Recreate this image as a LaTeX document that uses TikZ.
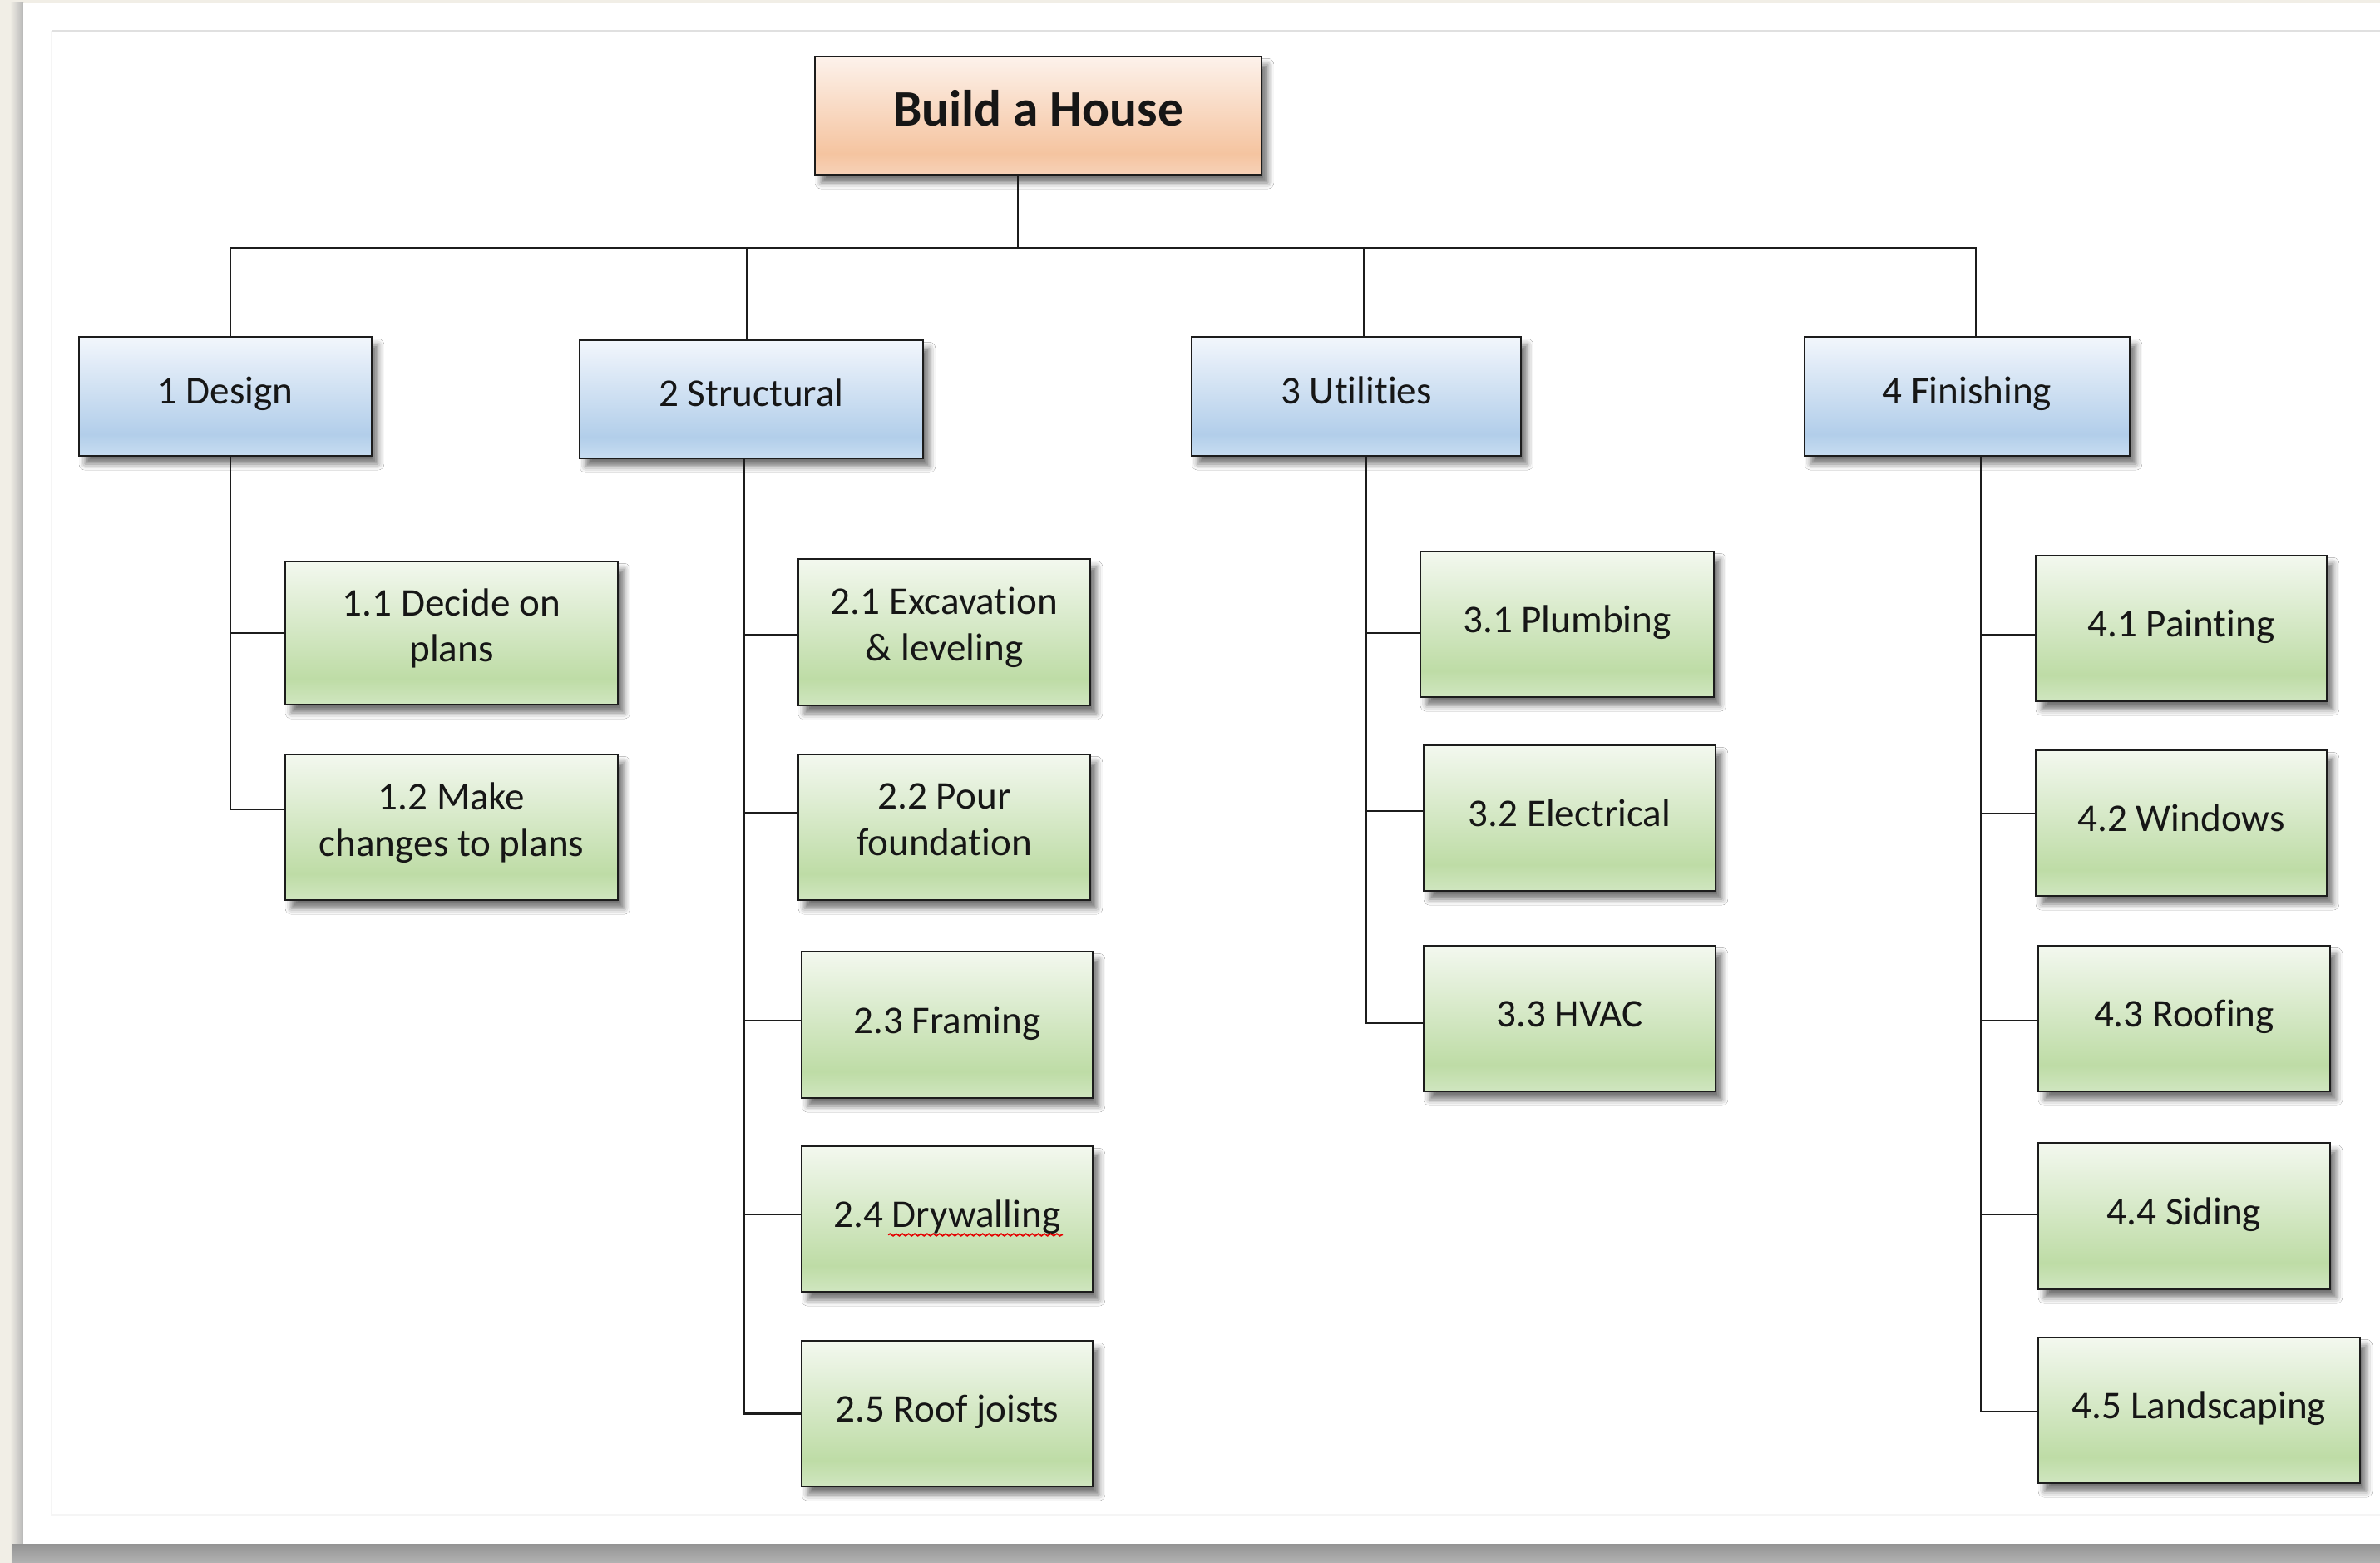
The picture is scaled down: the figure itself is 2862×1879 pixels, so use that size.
\documentclass[tikz,border=0pt]{standalone}
\usepackage{fontspec}
\setmainfont{Carlito}[Ligatures={NoCommon}]
\usetikzlibrary{calc,shadows.blur,decorations.pathmorphing}
\definecolor{beige}{RGB}{241,238,230}
\definecolor{linec}{RGB}{28,28,28}
\definecolor{textc}{RGB}{22,22,22}
\definecolor{oT}{RGB}{253,242,235}
\definecolor{oD}{RGB}{245,196,160}
\definecolor{oB}{RGB}{247,210,184}
\definecolor{bT}{RGB}{242,246,252}
\definecolor{bD}{RGB}{178,206,234}
\definecolor{bB}{RGB}{200,221,241}
\definecolor{gT}{RGB}{243,248,239}
\definecolor{gD}{RGB}{190,220,166}
\definecolor{gB}{RGB}{208,230,192}
\pgfdeclareverticalshading{orangesh}{100bp}{color(0bp)=(oB); color(25bp)=(oB); color(34bp)=(oD); color(75bp)=(oT); color(100bp)=(oT)}
\pgfdeclareverticalshading{bluesh}{100bp}{color(0bp)=(bB); color(25bp)=(bB); color(34bp)=(bD); color(75bp)=(bT); color(100bp)=(bT)}
\pgfdeclareverticalshading{greensh}{100bp}{color(0bp)=(gB); color(25bp)=(gB); color(34bp)=(gD); color(75bp)=(gT); color(100bp)=(gT)}
\tikzset{
  boxbase/.style={draw=linec, line width=1pt, rectangle, inner sep=0pt, align=center, text=textc,
    blur shadow={shadow xshift=2.6pt, shadow yshift=-3.4pt, shadow blur radius=2.6pt, shadow opacity=55}},
  lvlstrut/.style={execute at begin node={\rule{0pt}{13.4pt}}, execute at end node={\rule[-7.2pt]{0pt}{0pt}}},
  leafstrut/.style={execute at begin node={\rule{0pt}{13.8pt}}, execute at end node={\rule[-6.6pt]{0pt}{0pt}}},
  rootbox/.style={boxbase, shading=orangesh, font=\bfseries\fontsize{21.5}{25}\selectfont,
    execute at begin node={\rule{0pt}{18.5pt}}, execute at end node={\rule[-9.5pt]{0pt}{0pt}}},
  lvlbox/.style={boxbase, lvlstrut, shading=bluesh, font=\fontsize{16.5}{19.5}\selectfont},
  leafbox/.style={boxbase, leafstrut, shading=greensh, font=\fontsize{16.5}{19.5}\selectfont},
  sz/.style 2 args={minimum width=#1*0.35pt, minimum height=#2*0.35pt},
  conn/.style={draw=linec, line width=1pt},
}
\begin{document}
\begin{tikzpicture}[x=0.35pt, y=-0.35pt]
\useasboundingbox (0,0) rectangle (2862,1879);
% page background
\fill[beige] (0,0) rectangle (2862,1879);
\shade[left color=beige, right color=black!28] (12,4) rectangle (28,1879);
\fill[white] (28,4) rectangle (2862,1856);
\shade[top color=black!42, bottom color=black!30] (14,1856) rectangle (2862,1879);
\draw[black!12, line width=0.7pt] (62,37) -- (2862,37);
\draw[black!4, line width=0.5pt] (62,37) -- (62,1821) -- (2862,1821);

% nodes
\node[rootbox, sz={537}{142}] (root) at (1248.5,139) {Build a House};

\node[lvlbox, sz={352}{143}] (s1) at (271,476.5) {1 Design};
\node[lvlbox, sz={413}{142}] (s2) at (903.5,480) {2 Structural};
\node[lvlbox, sz={396}{143}] (s3) at (1631,476.5) {3 Utilities};
\node[lvlbox, sz={391}{143}] (s4) at (2365.5,476.5) {4 Finishing};

\node[leafbox, sz={400}{172}] (c11) at (543,761) {1.1 Decide on\\plans};
\node[leafbox, sz={400}{175}] (c12) at (543,994.5) {1.2 Make\\changes to plans};

\node[leafbox, sz={351}{176}] (c21) at (1135.5,760) {2.1 Excavation\\\& leveling};
\node[leafbox, sz={351}{175}] (c22) at (1135.5,994.5) {2.2 Pour\\foundation};
\node[leafbox, sz={350}{176}] (c23) at (1139,1232) {2.3 Framing};
\node[leafbox, sz={350}{175}] (c24) at (1139,1465.5) {2.4 Drywalling};
\node[leafbox, sz={350}{175}] (c25) at (1139,1699.5) {2.5 Roof joists};

\node[leafbox, sz={353}{175}] (c31) at (1884.5,750.5) {3.1 Plumbing};
\node[leafbox, sz={351}{175}] (c32) at (1887.5,983.5) {3.2 Electrical};
\node[leafbox, sz={351}{175}] (c33) at (1887.5,1224.5) {3.3 HVAC};

\node[leafbox, sz={350}{175}] (c41) at (2623,755.5) {4.1 Painting};
\node[leafbox, sz={350}{175}] (c42) at (2623,989.5) {4.2 Windows};
\node[leafbox, sz={351}{175}] (c43) at (2626.5,1224.5) {4.3 Roofing};
\node[leafbox, sz={351}{176}] (c44) at (2626.5,1462) {4.4 Siding};
\node[leafbox, sz={387}{175}] (c45) at (2644.5,1695.5) {4.5 Landscaping};

% spelling underline
\draw[red!90!black, line width=0.6pt, decorate, decoration={snake, amplitude=0.45pt, segment length=2.6pt}]
  ($(c24.center)+(-71,19)$) -- ($(c24.center)+(139,19)$);

% top-level connectors
\coordinate (bus) at (0,298);
\coordinate (rs) at ($(root.south)+(-24.5,0)$);
\draw[conn] (rs) -- (rs |- bus) -| ($(s1.north)+(6,0)$);
\draw[conn] (rs) -- (rs |- bus) -| ($(s2.north)+(-5,0)$);
\draw[conn] (rs) -- (rs |- bus) -| ($(s3.north)+(9,0)$);
\draw[conn] (rs) -- (rs |- bus) -| ($(s4.north)+(10.5,0)$);

% branch connectors
\draw[conn] ($(s1.south)+(6,0)$) |- (c11.west);
\draw[conn] ($(s1.south)+(6,0)$) |- ($(c12.west)+(0,-21.5)$);

\draw[conn] ($(s2.south)+(-8.5,0)$) |- ($(c21.west)+(0,3)$);
\draw[conn] ($(s2.south)+(-8.5,0)$) |- ($(c22.west)+(0,-17.5)$);
\draw[conn] ($(s2.south)+(-8.5,0)$) |- ($(c23.west)+(0,-5)$);
\draw[conn] ($(s2.south)+(-8.5,0)$) |- ($(c24.west)+(0,-5.5)$);
\draw[conn] ($(s2.south)+(-8.5,0)$) |- (c25.west);

\draw[conn] ($(s3.south)+(12,0)$) |- ($(c31.west)+(0,10.5)$);
\draw[conn] ($(s3.south)+(12,0)$) |- ($(c32.west)+(0,-8.5)$);
\draw[conn] ($(s3.south)+(12,0)$) |- ($(c33.west)+(0,5.5)$);

\draw[conn] ($(s4.south)+(16.5,0)$) |- ($(c41.west)+(0,7.5)$);
\draw[conn] ($(s4.south)+(16.5,0)$) |- ($(c42.west)+(0,-11.5)$);
\draw[conn] ($(s4.south)+(16.5,0)$) |- ($(c43.west)+(0,2.5)$);
\draw[conn] ($(s4.south)+(16.5,0)$) |- ($(c44.west)+(0,-2)$);
\draw[conn] ($(s4.south)+(16.5,0)$) |- ($(c45.west)+(0,1.5)$);
\end{tikzpicture}
\end{document}
